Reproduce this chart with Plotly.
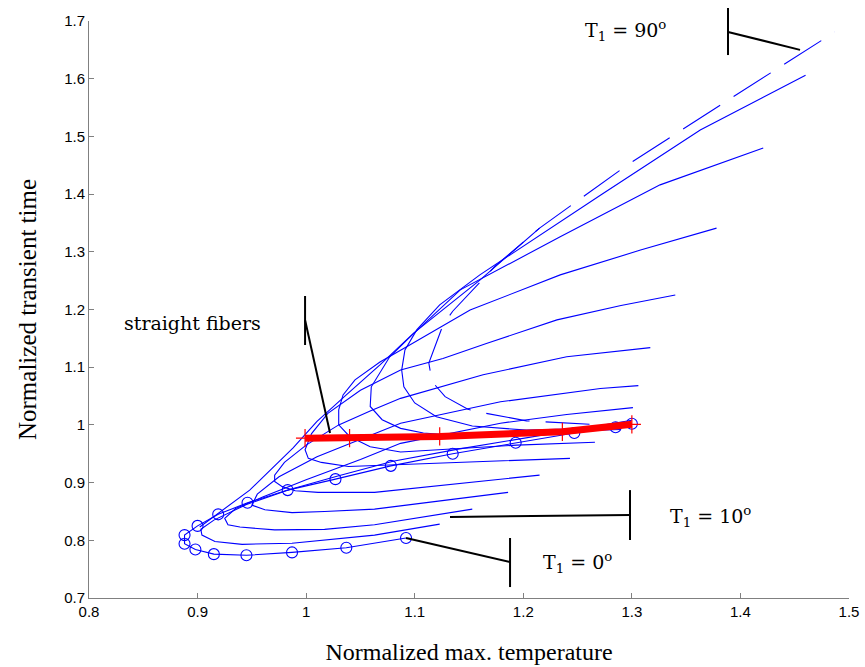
import plotly.graph_objects as go

# ---------------- data ----------------
# T1 = 0 curve (open circles)
c0_x = [1.092, 1.037, 0.987, 0.945, 0.915, 0.898, 0.888, 0.888, 0.900, 0.919, 0.946, 0.983, 1.027, 1.078, 1.135, 1.193, 1.247, 1.285, 1.300]
c0_y = [0.804, 0.787, 0.779, 0.774, 0.776, 0.784, 0.794, 0.809, 0.825, 0.845, 0.865, 0.887, 0.906, 0.929, 0.950, 0.969, 0.986, 0.996, 1.002]

c10_x = [1.123, 1.063, 0.987, 0.941, 0.916, 0.904, 0.903, 0.915, 0.945, 0.985, 1.030, 1.080, 1.140, 1.200, 1.250, 1.300]
c10_y = [0.828, 0.809, 0.795, 0.793, 0.798, 0.809, 0.819, 0.835, 0.862, 0.888, 0.912, 0.937, 0.958, 0.977, 0.993, 1.008]

c20_x = [1.153, 1.063, 1.017, 0.971, 0.939, 0.928, 0.925, 0.935, 0.960, 1.000, 1.050, 1.087, 1.179, 1.240, 1.301]
c20_y = [0.854, 0.827, 0.819, 0.818, 0.823, 0.827, 0.838, 0.855, 0.875, 0.905, 0.940, 0.968, 1.003, 1.018, 1.030]

c30_x = [1.186, 1.063, 1.017, 0.987, 0.962, 0.950, 0.955, 0.975, 1.010, 1.050, 1.087, 1.179, 1.271, 1.306]
c30_y = [0.883, 0.854, 0.850, 0.848, 0.853, 0.861, 0.880, 0.910, 0.945, 0.975, 1.003, 1.040, 1.063, 1.068]

c40_x = [1.215, 1.063, 1.011, 0.990, 0.978, 0.971, 0.971, 0.980, 1.000, 1.030, 1.060, 1.087, 1.163, 1.240, 1.317]
c40_y = [0.913, 0.883, 0.883, 0.886, 0.893, 0.902, 0.913, 0.935, 0.965, 1.000, 1.025, 1.046, 1.087, 1.118, 1.134]

c50_x = [1.243, 1.151, 1.087, 1.039, 1.014, 1.002, 0.999, 1.005, 1.020, 1.050, 1.087, 1.126, 1.166, 1.231, 1.290, 1.340]
c50_y = [0.942, 0.936, 0.931, 0.928, 0.935, 0.942, 0.957, 0.985, 1.020, 1.060, 1.095, 1.115, 1.141, 1.182, 1.207, 1.225]

c60_x = [1.266, 1.194, 1.087, 1.059, 1.040, 1.030, 1.030, 1.034, 1.045, 1.068, 1.093, 1.151, 1.234, 1.308, 1.378]
c60_y = [0.970, 0.965, 0.953, 0.962, 0.980, 1.000, 1.026, 1.052, 1.078, 1.109, 1.136, 1.199, 1.260, 1.303, 1.341]

c70_x = [1.290, 1.220, 1.151, 1.108, 1.087, 1.070, 1.059, 1.060, 1.077, 1.096, 1.142, 1.234, 1.326, 1.421]
c70_y = [0.992, 0.988, 0.980, 0.986, 0.994, 1.009, 1.032, 1.066, 1.118, 1.153, 1.234, 1.326, 1.416, 1.480]

c80_x = [1.290, 1.203, 1.153, 1.120, 1.100, 1.090, 1.088, 1.091, 1.102, 1.123, 1.160, 1.215, 1.271, 1.363, 1.460]
c80_y = [0.995, 0.991, 0.998, 1.014, 1.038, 1.066, 1.095, 1.130, 1.165, 1.208, 1.260, 1.329, 1.398, 1.511, 1.606]

# T1 = 90 curve (dashed)
c90_x = [1.261, 1.203, 1.163, 1.149, 1.128, 1.116, 1.113, 1.126, 1.135, 1.174, 1.215, 1.297, 1.392, 1.487]
c90_y = [1.001, 1.007, 1.021, 1.027, 1.049, 1.075, 1.107, 1.173, 1.197, 1.275, 1.341, 1.452, 1.567, 1.681]

# upper envelope
env_x = [0.902, 0.948, 0.988, 1.010, 1.037, 1.068, 1.099, 1.130, 1.160, 1.215]
env_y = [0.823, 0.887, 0.960, 1.006, 1.052, 1.104, 1.159, 1.205, 1.251, 1.341]

# straight fibers (red)
sf_x = [0.999, 1.040, 1.123, 1.236, 1.300]
sf_y = [0.977, 0.977, 0.980, 0.988, 1.001]

x_ticks = [0.8, 0.9, 1.0, 1.1, 1.2, 1.3, 1.4, 1.5]
x_ticktext = ["0.8", "0.9", "1", "1.1", "1.2", "1.3", "1.4", "1.5"]
y_ticks = [0.7, 0.8, 0.9, 1.0, 1.1, 1.2, 1.3, 1.4, 1.5, 1.6, 1.7]
y_ticktext = ["0.7", "0.8", "0.9", "1", "1.1", "1.2", "1.3", "1.4", "1.5", "1.6", "1.7"]

BLUE = "rgb(0,0,255)"
RED = "rgb(255,0,0)"

fig = go.Figure()

solid_curves = [(c10_x, c10_y), (c20_x, c20_y), (c30_x, c30_y), (c40_x, c40_y),
                (c50_x, c50_y), (c60_x, c60_y), (c70_x, c70_y), (c80_x, c80_y),
                (env_x, env_y)]
for cx, cy in solid_curves:
    fig.add_trace(go.Scatter(x=cx, y=cy, mode="lines",
                             line=dict(color=BLUE, width=1.1)))

fig.add_trace(go.Scatter(x=c90_x, y=c90_y, mode="lines",
                         line=dict(color=BLUE, width=1.1, dash="44px,16px")))

fig.add_trace(go.Scatter(x=c0_x, y=c0_y, mode="lines+markers",
                         line=dict(color=BLUE, width=1.1),
                         marker=dict(symbol="circle-open", size=11, color=BLUE,
                                     line=dict(width=1.1, color=BLUE))))

fig.add_trace(go.Scatter(x=sf_x, y=sf_y, mode="lines+markers",
                         line=dict(color=RED, width=7),
                         marker=dict(symbol="cross-thin-open", size=13, color=RED,
                                     line=dict(width=1.2, color=RED))))

SERIF = "Liberation Serif"
ANN_SERIF = "DejaVu Serif"

# pointer lines for labels
def seg(x0, y0, x1, y1, xref="x", yref="y"):
    fig.add_shape(type="line", xref=xref, yref=yref, x0=x0, y0=y0, x1=x1, y1=y1,
                  line=dict(color="black", width=2))

# T1 = 90 (vertical bar pokes above the plot area -> paper coordinates)
seg(0.8408, 1.0225, 0.8408, 0.941, xref="paper", yref="paper")
seg(1.3886, 1.681, 1.4549, 1.650)
# T1 = 10
seg(1.2983, 0.887, 1.2983, 0.8005)
seg(1.2983, 0.844, 1.1325, 0.8405)
# T1 = 0
seg(1.1878, 0.804, 1.1878, 0.719)
seg(1.1878, 0.7624, 1.092, 0.804)
# straight fibers
seg(0.999, 1.2234, 0.999, 1.1385)
seg(0.999, 1.1818, 1.022, 0.986)

ann_font = dict(family=ANN_SERIF, size=19, color="black")
fig.add_annotation(x=1.2946, y=1.683, text="T<sub>1</sub> = 90<sup>o</sup>", showarrow=False, font=ann_font)
fig.add_annotation(x=1.372, y=0.842, text="T<sub>1</sub> = 10<sup>o</sup>", showarrow=False, font=ann_font)
fig.add_annotation(x=1.250, y=0.762, text="T<sub>1</sub> = 0<sup>o</sup>", showarrow=False, font=ann_font)
fig.add_annotation(x=0.895, y=1.1766, text="straight fibers", showarrow=False, font=ann_font)

axis_common = dict(showgrid=False, zeroline=False, showline=True, linecolor="rgb(128,128,128)",
                   linewidth=1, ticks="inside", ticklen=5, tickcolor="rgb(128,128,128)",
                   tickfont=dict(family="Liberation Sans", size=15, color="black"), mirror=False,
                   automargin=False)

fig.update_layout(
    width=865, height=667,
    margin=dict(l=89, r=16, t=21, b=69),
    paper_bgcolor="white", plot_bgcolor="white",
    showlegend=False,
    xaxis=dict(range=[0.8, 1.5], tickvals=x_ticks, ticktext=x_ticktext,
               title=dict(text="Normalized max. temperature", font=dict(family=SERIF, size=24, color="black"), standoff=24),
               **axis_common),
    yaxis=dict(range=[0.7, 1.7], tickvals=y_ticks, ticktext=y_ticktext,
               title=dict(text="Normalized transient time", font=dict(family=SERIF, size=25, color="black"), standoff=20),
               **axis_common),
)

fig.write_html("out.html", config={"displayModeBar": False},
               post_script="document.body.style.margin='0px';document.body.style.overflow='hidden';")
